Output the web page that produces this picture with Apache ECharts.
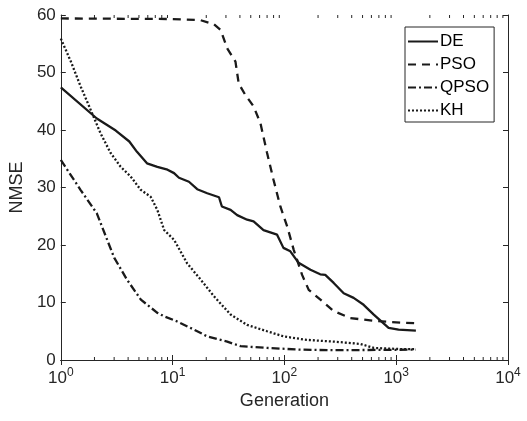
<!DOCTYPE html>
<html>
<head>
<meta charset="utf-8">
<script src="https://cdn.jsdelivr.net/npm/echarts@6/dist/echarts.min.js"></script>
<style>html,body{margin:0;padding:0;background:#fff}#c{width:527px;height:421px}</style>
</head>
<body>
<div id="c"></div>
<script>
const seriesNames = ['DE', 'PSO', 'QPSO', 'KH'];
const deGen = [1, 2.1, 3.1, 4.1, 4.8, 5.9, 7.3, 9, 10.3, 11.4, 14, 16.6, 20.4, 26, 27.6, 33, 37.8, 46.4, 53, 65, 86, 98, 113, 134, 171, 209, 232, 276, 339, 416, 511, 630, 855, 1050, 1500];
const deVal = [47.4, 42.0, 39.9, 38.0, 36.2, 34.2, 33.6, 33.1, 32.5, 31.7, 31.0, 29.7, 29.0, 28.3, 26.7, 26.1, 25.2, 24.4, 24.1, 22.6, 21.8, 19.5, 18.9, 16.9, 15.7, 14.9, 14.8, 13.4, 11.6, 10.8, 9.6, 7.9, 5.6, 5.3, 5.1];
const psoGen = [1, 9.3, 17.8, 23.4, 26.9, 30.8, 36.5, 39, 44.7, 53, 61, 70, 80, 92, 106, 121, 144, 165, 210, 276, 389, 630, 1086, 1500];
const psoVal = [59.4, 59.3, 59.1, 58.4, 57.4, 54.2, 51.9, 48.1, 46.1, 44.1, 41.2, 36.0, 31.3, 26.7, 23.2, 19.2, 14.8, 12.2, 10.5, 8.5, 7.3, 6.8, 6.5, 6.4];
const qpsoGen = [1, 1.5, 2.1, 3, 3.9, 5.2, 7.3, 8.4, 11, 15.5, 20.4, 30.8, 40.5, 70, 139, 276, 1500];
const qpsoVal = [34.8, 29.6, 25.5, 17.8, 14.0, 10.5, 8.2, 7.6, 6.7, 5.3, 4.1, 3.2, 2.4, 2.1, 1.8, 1.7, 1.8];
const khGen = [1, 1.23, 1.51, 1.85, 2.27, 2.79, 3.43, 4.22, 5.18, 6.36, 7.3, 8.4, 10.3, 13.5, 17.8, 23.4, 33, 46.4, 70, 98.6, 158, 276, 476, 630, 1086, 1500];
const khVal = [55.9, 51.9, 47.5, 43.5, 39.4, 36.0, 33.6, 31.9, 29.6, 28.4, 26.1, 22.6, 20.9, 16.8, 14.0, 11.1, 7.9, 6.1, 5.0, 4.1, 3.5, 3.2, 2.8, 2.1, 1.9, 1.9];
const xMin = 1, xMax = 10000;
const yMin = 0, yMax = 60, yStep = 10;
const minorTickValues = [];
for (let d = 1; d < xMax; d *= 10) { for (let k = 2; k <= 9; k++) minorTickValues.push(k * d); }

const zip = (a, b) => a.map((v, i) => [v, b[i]]);
const C = '#1a1a1a';
const AX = '#262626';
const chart = echarts.init(document.getElementById('c'));
const lineTypes = ['solid', [8, 6], [8, 3, 2, 3], [2, 2]];
const gens = [deGen, psoGen, qpsoGen, khGen];
const vals = [deVal, psoVal, qpsoVal, khVal];

const series = seriesNames.map((n, i) => ({
  name: n, type: 'line', xAxisIndex: 0, yAxisIndex: 0,
  data: zip(gens[i], vals[i]), showSymbol: false, symbol: 'none',
  lineStyle: {color: C, width: 2.3, type: lineTypes[i]}, itemStyle: {color: C},
  animation: false, z: 5
}));
series.push({
  type: 'custom', xAxisIndex: 0, yAxisIndex: 0, silent: true, animation: false,
  data: minorTickValues.map(v => [v, yMin]),
  renderItem: (params, api) => {
    const x = api.value(0);
    const b = api.coord([x, yMin]);
    const t = api.coord([x, yMax]);
    return {type: 'group', children: [
      {type: 'line', shape: {x1: b[0], y1: b[1], x2: b[0], y2: b[1] - 3}, style: {stroke: AX, lineWidth: 1}},
      {type: 'line', shape: {x1: t[0], y1: t[1], x2: t[0], y2: t[1] + 3}, style: {stroke: AX, lineWidth: 1}}
    ]};
  }
});

const font = 'Liberation Sans, Arial, sans-serif';
chart.setOption({
  animation: false,
  backgroundColor: '#fff',
  grid: {left: 60, right: 19, top: 15, bottom: 61},
  legend: {
    data: seriesNames, orient: 'vertical', left: 405, top: 27,
    itemWidth: 30, itemHeight: 14, itemGap: 6,
    padding: [6, 5, 3, 2],
    borderColor: AX, borderWidth: 1, backgroundColor: '#fff',
    itemStyle: {opacity: 0, borderWidth: 0},
    textStyle: {fontFamily: font, fontSize: 17, color: '#000', padding: [0, 0, 0, -3]}
  },
  xAxis: [{
    type: 'log', logBase: 10, min: xMin, max: xMax,
    name: 'Generation', nameLocation: 'middle', nameGap: 29,
    nameTextStyle: {fontFamily: font, fontSize: 18, color: AX},
    axisLine: {show: true, lineStyle: {color: AX, width: 1}},
    axisTick: {show: true, inside: true, length: 5, lineStyle: {color: AX}},
    splitLine: {show: false},
    axisLabel: {
      fontFamily: font, fontSize: 17, color: AX, margin: 7,
      formatter: v => '10{s|' + Math.round(Math.log10(v)) + '}',
      rich: {s: {fontSize: 12, fontFamily: font, color: AX, verticalAlign: 'bottom', padding: [0, 0, 11, 0]}}
    }
  }, {
    type: 'log', logBase: 10, min: xMin, max: xMax, position: 'top',
    axisLine: {show: true, lineStyle: {color: AX, width: 1}},
    axisTick: {show: true, inside: true, length: 5, lineStyle: {color: AX}},
    axisLabel: {show: false}, splitLine: {show: false}
  }],
  yAxis: [{
    type: 'value', min: yMin, max: yMax, interval: yStep,
    name: 'NMSE', nameLocation: 'middle', nameGap: 26,
    nameTextStyle: {fontFamily: font, fontSize: 18, color: AX},
    axisLine: {show: true, lineStyle: {color: AX, width: 1}},
    axisTick: {show: true, inside: true, length: 5, lineStyle: {color: AX}},
    splitLine: {show: false},
    axisLabel: {fontFamily: font, fontSize: 17, color: AX, margin: 5}
  }, {
    type: 'value', min: yMin, max: yMax, interval: yStep, position: 'right',
    axisLine: {show: true, lineStyle: {color: AX, width: 1}},
    axisTick: {show: true, inside: true, length: 5, lineStyle: {color: AX}},
    axisLabel: {show: false}, splitLine: {show: false}
  }],
  series: series
});
</script>
</body>
</html>
